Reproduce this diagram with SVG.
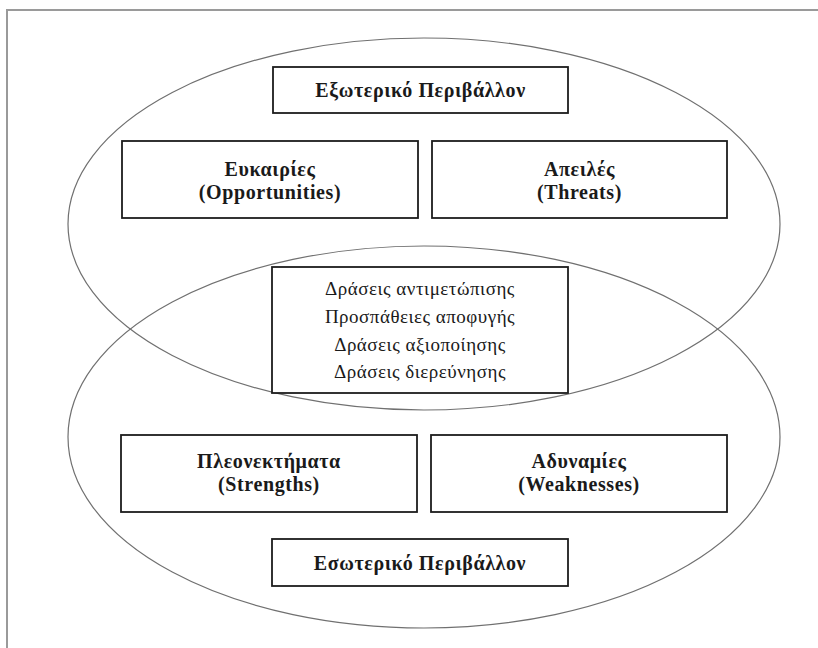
<svg xmlns="http://www.w3.org/2000/svg" width="818" height="648" viewBox="0 0 818 648">
  <style>
    .frame { fill: none; stroke: #9a9a9a; stroke-width: 2; }
    .env { fill: none; stroke: #707070; stroke-width: 1.2; }
    .box { fill: #ffffff; stroke: #1c1c1c; stroke-width: 1.8; }
    .bold { font-family: "Liberation Serif", "DejaVu Serif", serif; font-weight: bold; font-size: 20px; letter-spacing: 0.6px; fill: #1a1a1a; text-anchor: middle; }
    .reg { font-family: "Liberation Serif", "DejaVu Serif", serif; font-size: 19px; letter-spacing: 0.5px; fill: #1a1a1a; text-anchor: middle; }
  </style>

  <rect width="818" height="648" fill="#ffffff"/>
  <!-- page frame (continues past the right and bottom edges) -->
  <rect class="frame" x="7" y="10" width="900" height="700"/>

  <!-- external and internal environment ellipses -->
  <g id="connectors">
    <ellipse id="external-env" class="env" cx="424" cy="224" rx="356" ry="186"/>
    <ellipse id="internal-env" class="env" cx="424" cy="437" rx="356" ry="191"/>
  </g>

  <g id="external-title">
    <rect class="box" x="273" y="67" width="295" height="46"/>
    <text class="bold" x="420.5" y="97">Εξωτερικό Περιβάλλον</text>
  </g>

  <g id="opportunities">
    <rect class="box" x="122" y="141" width="296" height="77"/>
    <text class="bold" x="270" y="176">Ευκαιρίες</text>
    <text class="bold" x="270" y="199">(Opportunities)</text>
  </g>

  <g id="threats">
    <rect class="box" x="432" y="141" width="295" height="77"/>
    <text class="bold" x="579.5" y="176">Απειλές</text>
    <text class="bold" x="579.5" y="199">(Threats)</text>
  </g>

  <g id="actions">
    <rect class="box" x="272" y="267" width="296" height="126"/>
    <text class="reg" x="420" y="295">Δράσεις αντιμετώπισης</text>
    <text class="reg" x="420" y="323">Προσπάθειες αποφυγής</text>
    <text class="reg" x="420" y="351">Δράσεις αξιοποίησης</text>
    <text class="reg" x="420" y="378">Δράσεις διερεύνησης</text>
  </g>

  <g id="strengths">
    <rect class="box" x="121" y="435" width="296" height="77"/>
    <text class="bold" x="269" y="468">Πλεονεκτήματα</text>
    <text class="bold" x="269" y="491">(Strengths)</text>
  </g>

  <g id="weaknesses">
    <rect class="box" x="431" y="435" width="296" height="77"/>
    <text class="bold" x="579" y="468">Αδυναμίες</text>
    <text class="bold" x="579" y="491">(Weaknesses)</text>
  </g>

  <g id="internal-title">
    <rect class="box" x="272" y="539" width="296" height="47"/>
    <text class="bold" x="420" y="570">Εσωτερικό Περιβάλλον</text>
  </g>
</svg>
